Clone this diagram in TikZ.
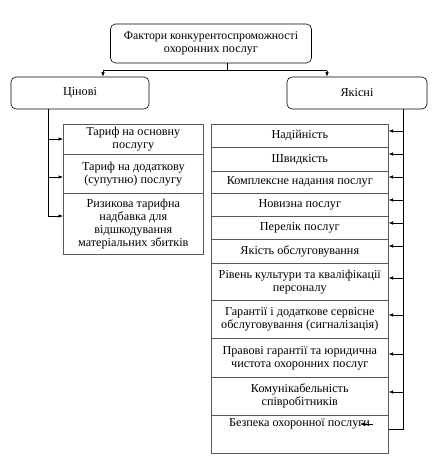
\documentclass[tikz,border=0pt]{standalone}
\usepackage{fontspec}
\setmainfont{Liberation Serif}
\usetikzlibrary{arrows.meta,calc}
\begin{document}
\begin{tikzpicture}[x=1pt,y=-1pt,
  every node/.style={font=\rmfamily\fontsize{12.2}{13}\selectfont, inner sep=1pt, align=center},
  rbox/.style={draw=black, rounded corners=5pt, line width=0.6pt},
  lbox/.style={draw=black!65, line width=0.6pt, anchor=north west, minimum width=140pt},
  qbox/.style={draw=black!65, line width=0.6pt, anchor=north west, minimum width=177pt},
  ln/.style={draw=black, line width=0.6pt},
  arr/.style={ln, -{Latex[length=4.5pt,width=3.5pt]}}]
\useasboundingbox (0,0) rectangle (434,471);
% top
\node[rbox, minimum width=201pt, minimum height=39pt] (top) at (211,43.5) {\fontsize{11.8}{15}\selectfont Фактори конкурентоспроможності\\охоронних послуг};
\node[rbox, minimum width=138pt, minimum height=32pt] (cin) at (80,93) {Цінові};
\node[rbox, minimum width=140pt, minimum height=32pt] (yak) at (357,93) {Якісні};
\coordinate (tj) at (227,70.5);
\draw[ln] (top.south -| tj) -- (tj);
\draw[ln] (tj -| 103,0) -- (tj -| 327,0);
\draw[arr] (103,70.5) -- (cin.north -| 103,0);
\draw[arr] (327,70.5) -- (yak.north -| 327,0);
% left column
\node[lbox, minimum height=30pt] (l1) at (63,124) {Тариф на основну\\послугу};
\node[lbox, minimum height=39pt] (l2) at (63,154) {Тариф на додаткову\\(супутню) послугу};
\node[lbox, minimum height=61pt] (l3) at (63,193) {Ризикова тарифна\\надбавка для\\відшкодування\\матеріальних збитків};
\coordinate (lv0) at (48,109);
\coordinate (la1) at (48,139);
\coordinate (la2) at (48,177);
\coordinate (la3) at (48,216);
\draw[ln] (lv0) -- (la3);
\draw[arr] (la1) -- (la1 -| l1.west);
\draw[arr] (la2) -- (la2 -| l2.west);
\draw[arr] (la3) -- (la3 -| l3.west);
% right column
\node[qbox, minimum height=23pt] (r1) at (211,124) {Надійність};
\node[qbox, minimum height=24pt] (r2) at (211,147) {Швидкість};
\node[qbox, minimum height=22pt] (r3) at (211,171) {Комплексне надання послуг};
\node[qbox, minimum height=23pt] (r4) at (211,193) {Новизна послуг};
\node[qbox, minimum height=23pt] (r5) at (211,216) {Перелік послуг};
\node[qbox, minimum height=24pt] (r6) at (211,239) {Якість обслуговування};
\node[qbox, minimum height=37pt] (r7) at (211,263) {Рівень культури та кваліфікації\\персоналу};
\node[qbox, minimum height=38pt] (r8) at (211,300) {Гарантії і додаткове сервісне\\обслуговування (сигналізація)};
\node[qbox, minimum height=39pt] (r9) at (211,338) {Правові гарантії та юридична\\чистота охоронних послуг};
\node[qbox, minimum height=38pt] (r10) at (211,377) {Комунікабельність\\співробітників};
\node[qbox, minimum height=38pt] (r11) at (211,415) {};
\node (r11t) at (299.5,424) {Безпека охоронної послуги};
\coordinate (rv0) at (403,109);
\coordinate (ra1) at (403,131);
\coordinate (ra2) at (403,154);
\coordinate (ra3) at (403,177);
\coordinate (ra4) at (403,200);
\coordinate (ra5) at (403,223);
\coordinate (ra6) at (403,246);
\coordinate (ra7) at (403,278);
\coordinate (ra8) at (403,315);
\coordinate (ra9) at (403,354);
\coordinate (ra10) at (403,392);
\coordinate (ra11) at (403,429);
\draw[ln] (rv0) -- (ra11) -- (ra11 -| r11.east);
\draw[arr] (ra1) -- (ra1 -| r1.east);
\draw[arr] (ra2) -- (ra2 -| r2.east);
\draw[arr] (ra3) -- (ra3 -| r3.east);
\draw[arr] (ra4) -- (ra4 -| r4.east);
\draw[arr] (ra5) -- (ra5 -| r5.east);
\draw[arr] (ra6) -- (ra6 -| r6.east);
\draw[arr] (ra7) -- (ra7 -| r7.east);
\draw[arr] (ra8) -- (ra8 -| r8.east);
\draw[arr] (ra9) -- (ra9 -| r9.east);
\draw[arr] (ra10) -- (ra10 -| r10.east);
\coordinate (sa) at (373,424);
\coordinate (sb) at (360,424);
\draw[arr] (sa) -- (sb);
\end{tikzpicture}
\end{document}
